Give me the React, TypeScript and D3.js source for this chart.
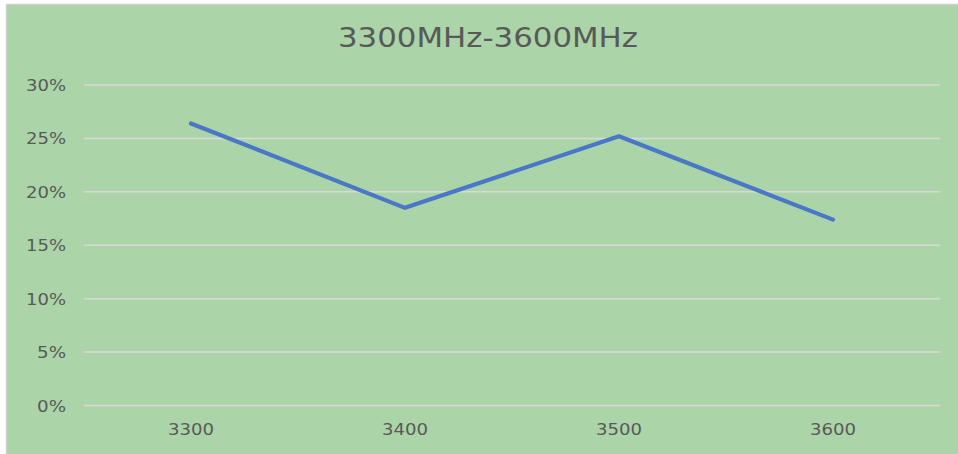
import React from "react";
import * as d3 from "d3";

const categories = ["3300", "3400", "3500", "3600"];
const values = [0.264, 0.185, 0.252, 0.174];
const yTicks = [0, 0.05, 0.1, 0.15, 0.2, 0.25, 0.3];
const title = "3300MHz-3600MHz";

const W = 958;
const H = 454;
const plot = { left: 84, right: 940, top: 85, bottom: 405.5 };
const font = "'DejaVu Sans', Verdana, sans-serif";
const textColor = "#595959";

export default function App() {
  const x = d3
    .scaleBand<string>()
    .domain(categories)
    .range([plot.left, plot.right])
    .paddingInner(0)
    .paddingOuter(0);
  const y = d3.scaleLinear().domain([0, 0.3]).range([plot.bottom, plot.top]);
  const fmt = d3.format(".0%");
  const line = d3
    .line<number>()
    .x((_, i) => (x(categories[i]) as number) + x.bandwidth() / 2)
    .y((d) => y(d));

  return (
    <svg
      width={W}
      height={H}
      style={{ position: "absolute", left: 0, top: 0, display: "block" }}
    >
      <rect x={0} y={0} width={W} height={H} fill="#ffffff" />
      <rect x={6} y={4} width={W} height={H} fill="#ABD4A8" />
      <line x1={6} x2={W} y1={4.5} y2={4.5} stroke="#D0D0D0" strokeWidth={1.5} />
      <line x1={6.5} x2={6.5} y1={4} y2={H} stroke="#D0D0D0" strokeWidth={1.5} />
      <text
        x={488}
        y={47}
        textAnchor="middle"
        fontFamily={font}
        fontSize={27}
        fill={textColor}
        textLength={300}
        lengthAdjust="spacingAndGlyphs"
      >
        {title}
      </text>
      {yTicks.map((t) => {
        const label = fmt(t);
        return (
          <g key={t}>
            <line
              x1={plot.left}
              x2={plot.right}
              y1={y(t)}
              y2={y(t)}
              stroke="#D9D9D9"
              strokeWidth={1.5}
            />
            <text
              x={66}
              y={y(t) + 6}
              textAnchor="end"
              fontFamily={font}
              fontSize={16}
              fill={textColor}
              textLength={label.length === 3 ? 40 : 29}
              lengthAdjust="spacingAndGlyphs"
            >
              {label}
            </text>
          </g>
        );
      })}
      {categories.map((c) => (
        <text
          key={c}
          x={(x(c) as number) + x.bandwidth() / 2}
          y={435}
          textAnchor="middle"
          fontFamily={font}
          fontSize={16}
          fill={textColor}
          textLength={46}
          lengthAdjust="spacingAndGlyphs"
        >
          {c}
        </text>
      ))}
      <path
        d={line(values) || ""}
        fill="none"
        stroke="#4A78C6"
        strokeWidth={4.2}
        strokeLinecap="round"
        strokeLinejoin="round"
      />
    </svg>
  );
}
